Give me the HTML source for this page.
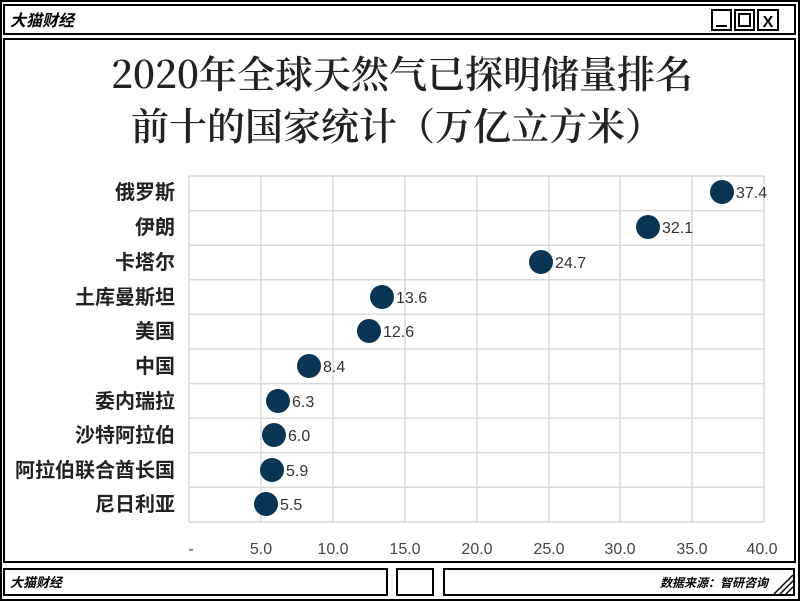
<!DOCTYPE html>
<html><head><meta charset="utf-8"><style>
body{margin:0;width:800px;height:601px;background:#fff;overflow:hidden;font-family:"Liberation Sans","Noto Sans CJK SC",sans-serif}
</style></head><body>
<svg width="800" height="601" xmlns="http://www.w3.org/2000/svg" style="position:absolute;left:0;top:0">
<rect x="1" y="1" width="798" height="599" fill="#fff" stroke="#000" stroke-width="2"/>
<rect x="4" y="5" width="791" height="29" fill="#fff" stroke="#000" stroke-width="2"/>
<text x="10" y="26" font-size="16" font-weight="bold" font-style="italic" font-family="Noto Sans CJK SC,sans-serif">大猫财经</text>
<rect x="712" y="10" width="19" height="20" fill="#fff" stroke="#000" stroke-width="2"/>
<line x1="716" y1="26" x2="727" y2="26" stroke="#000" stroke-width="2"/>
<rect x="735" y="10" width="19" height="20" fill="#fff" stroke="#000" stroke-width="2"/>
<rect x="739" y="14" width="11" height="12" fill="none" stroke="#000" stroke-width="2"/>
<rect x="758" y="10" width="20" height="20" fill="#fff" stroke="#000" stroke-width="2"/>
<text x="768" y="27" font-size="16" font-weight="bold" text-anchor="middle">X</text>
<rect x="4" y="39" width="791" height="523" fill="#fff" stroke="#000" stroke-width="2"/>
<text x="402" y="88" font-size="38" text-anchor="middle" font-family="Noto Serif CJK SC,serif" font-weight="600" fill="#222">2020年全球天然气已探明储量排名</text>
<text x="397" y="140" font-size="38" text-anchor="middle" font-family="Noto Serif CJK SC,serif" font-weight="600" fill="#222">前十的国家统计（万亿立方米）</text>
<g stroke="#d9d9d9" stroke-width="1.5">
<line x1="189" y1="176" x2="764" y2="176"/><line x1="189" y1="210.6" x2="764" y2="210.6"/><line x1="189" y1="245.2" x2="764" y2="245.2"/><line x1="189" y1="279.8" x2="764" y2="279.8"/><line x1="189" y1="314.4" x2="764" y2="314.4"/><line x1="189" y1="349" x2="764" y2="349"/><line x1="189" y1="383.6" x2="764" y2="383.6"/><line x1="189" y1="418.2" x2="764" y2="418.2"/><line x1="189" y1="452.8" x2="764" y2="452.8"/><line x1="189" y1="487.4" x2="764" y2="487.4"/><line x1="189" y1="522" x2="764" y2="522"/>
<line x1="189" y1="176" x2="189" y2="522"/><line x1="261" y1="176" x2="261" y2="522"/><line x1="333" y1="176" x2="333" y2="522"/><line x1="405" y1="176" x2="405" y2="522"/><line x1="477" y1="176" x2="477" y2="522"/><line x1="549" y1="176" x2="549" y2="522"/><line x1="620" y1="176" x2="620" y2="522"/><line x1="692" y1="176" x2="692" y2="522"/><line x1="764" y1="176" x2="764" y2="522"/>
</g>
<g font-size="20" font-weight="bold" text-anchor="end" fill="#222" font-family="Noto Sans CJK SC,sans-serif">
<text x="175" y="199">俄罗斯</text><text x="175" y="234">伊朗</text><text x="175" y="269">卡塔尔</text><text x="175" y="304">土库曼斯坦</text><text x="175" y="338">美国</text><text x="175" y="373">中国</text><text x="175" y="408">委内瑞拉</text><text x="175" y="442">沙特阿拉伯</text><text x="175" y="477">阿拉伯联合酋长国</text><text x="175" y="511">尼日利亚</text>
</g>
<g fill="#0b3555">
<circle cx="722" cy="192" r="12"/><circle cx="648" cy="227" r="12"/><circle cx="541" cy="262" r="12"/><circle cx="382" cy="297" r="12"/><circle cx="369" cy="331" r="12"/><circle cx="309" cy="366" r="12"/><circle cx="278" cy="401" r="12"/><circle cx="274" cy="435" r="12"/><circle cx="272" cy="470" r="12"/><circle cx="266" cy="504" r="12"/>
</g>
<g font-size="16" fill="#333">
<text x="736" y="198">37.4</text><text x="662" y="233">32.1</text><text x="555" y="268">24.7</text><text x="396" y="303">13.6</text><text x="383" y="337">12.6</text><text x="323" y="372">8.4</text><text x="292" y="407">6.3</text><text x="288" y="441">6.0</text><text x="286" y="476">5.9</text><text x="280" y="510">5.5</text>
</g>
<g font-size="16" fill="#444" text-anchor="middle">
<text x="191" y="554">-</text><text x="261" y="554">5.0</text><text x="333" y="554">10.0</text><text x="405" y="554">15.0</text><text x="477" y="554">20.0</text><text x="549" y="554">25.0</text><text x="620" y="554">30.0</text><text x="692" y="554">35.0</text><text x="762" y="554">40.0</text>
</g>
<rect x="4" y="569" width="383" height="26" fill="#fff" stroke="#000" stroke-width="2"/>
<text x="10" y="587" font-size="13" font-weight="bold" font-style="italic" font-family="Noto Sans CJK SC,sans-serif">大猫财经</text>
<rect x="397" y="569" width="36" height="26" fill="#fff" stroke="#000" stroke-width="2"/>
<rect x="444" y="569" width="350" height="26" fill="#fff" stroke="#000" stroke-width="2"/>
<text x="768" y="587" font-size="12" font-weight="bold" font-style="italic" text-anchor="end" font-family="Noto Sans CJK SC,sans-serif">数据来源：智研咨询</text>
<g stroke="#000" stroke-width="1.5"><line x1="774" y1="594" x2="793" y2="575"/><line x1="780" y1="594" x2="794" y2="580"/><line x1="786" y1="594" x2="794" y2="586"/></g>
</svg>
</body></html>
